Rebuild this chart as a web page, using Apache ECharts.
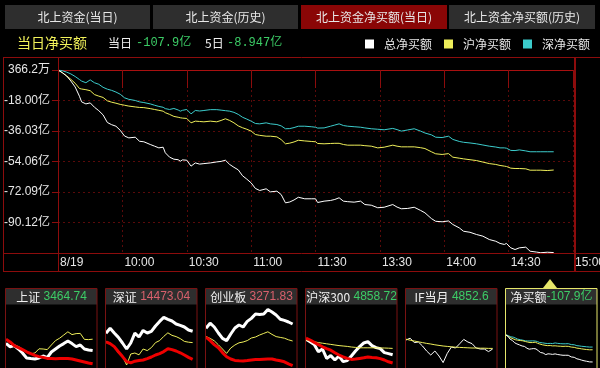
<!DOCTYPE html>
<html><head><meta charset="utf-8">
<script src="https://cdn.jsdelivr.net/npm/echarts@6/dist/echarts.min.js"></script>
<style>html,body{margin:0;padding:0;background:#000;}#c{width:600px;height:368px;}</style>
</head><body><div id="c"></div>
<script>
// ---------- main chart data (unit: 亿元), time = minutes since 9:30 (13:00 = 120) ----------
const times = [0,2,4,6,8,10,11,13,15,17,
  19,21,23,25,27,29,31,33,36,38,
  40,43,45,47,49,50,52,54,56,57,
  58,60,62,64,66,68,71,74,76,78,
  80,82,84,86,88,90,92,94,97,99,
  102,104,106,108,110,112,115,118,120,121,
  124,127,129,131,133,135,138,141,143,146,
  149,152,156,158,160,163,166,169,171,174,
  176,179,182,184,187,189,192,195,198,201,
  204,206,208,209,211,213,215,218,220,223,
  225,228,231];
const totalNet = [0.04,-1.5,-3.5,-6.5,-10.0,-15.5,-18.8,-20.0,-19.4,-22.0,
  -24.0,-26.5,-31.0,-32.3,-33.2,-35.6,-39.0,-40.1,-39.7,-42.1,
  -42.4,-44.0,-45.0,-46.0,-45.6,-48.9,-51.5,-52.7,-53.0,-53.9,
  -53.1,-53.3,-56.8,-54.9,-55.6,-55.3,-54.9,-54.3,-54.0,-53.3,
  -55.8,-57.5,-59.0,-62.5,-64.5,-66.7,-70.0,-71.2,-70.2,-72.0,
  -71.6,-73.6,-78.5,-78.0,-76.8,-75.2,-76.1,-76.1,-76.1,-78.3,
  -77.5,-77.1,-76.5,-75.5,-77.5,-77.8,-78.1,-77.5,-79.5,-79.9,
  -81.4,-81.1,-79.5,-81.0,-82.0,-81.8,-81.1,-83.0,-84.4,-87.8,
  -89.4,-89.7,-89.2,-91.3,-93.3,-95.3,-95.9,-97.2,-98.2,-100.2,
  -101.2,-102.5,-103.1,-102.5,-105.1,-106.1,-105.1,-104.7,-107.1,-107.6,
  -108.0,-107.7,-107.9];
const shNet = [0.04,-1.6,-3.4,-5.5,-7.8,-10.9,-11.2,-11.6,-12.2,-14.5,
  -15.4,-16.2,-18.2,-19.0,-19.6,-20.3,-20.8,-21.3,-21.8,-22.1,
  -22.2,-22.8,-23.3,-23.8,-24.3,-25.2,-26.2,-27.4,-27.9,-28.2,
  -28.4,-28.6,-31.2,-30.2,-30.4,-30.6,-30.2,-30.6,-29.8,-28.8,
  -29.8,-31.2,-33.0,-34.1,-35.0,-36.1,-38.1,-38.6,-39.1,-39.1,
  -39.5,-41.1,-43.6,-43.2,-42.5,-41.5,-41.9,-42.2,-42.4,-43.4,
  -43.6,-43.4,-43.3,-43.3,-44.0,-44.4,-44.4,-44.4,-44.7,-45.0,
  -46.0,-45.6,-44.4,-45.0,-45.4,-45.4,-45.4,-45.9,-46.4,-48.3,
  -49.5,-49.9,-49.4,-51.5,-52.1,-52.5,-53.0,-53.5,-54.4,-55.3,
  -55.8,-56.4,-56.8,-57.0,-58.0,-58.2,-58.2,-58.4,-59.2,-59.2,
  -59.2,-59.4,-59.1];
const szNet = [0.04,-0.4,-1.2,-2.3,-3.8,-5.6,-6.5,-7.5,-5.8,-7.5,
  -8.4,-10.2,-11.3,-12.0,-13.0,-14.3,-16.4,-17.3,-18.0,-18.8,
  -19.2,-20.0,-20.8,-21.5,-22.0,-22.8,-23.3,-22.7,-23.6,-24.3,
  -23.8,-23.3,-25.9,-23.9,-24.2,-23.9,-23.4,-23.4,-23.7,-24.0,
  -24.3,-25.0,-26.2,-27.9,-29.0,-30.2,-31.6,-31.8,-31.2,-31.8,
  -32.2,-33.0,-34.7,-34.6,-34.0,-33.2,-33.2,-33.5,-33.8,-34.3,
  -34.2,-33.2,-32.5,-31.8,-32.8,-33.2,-33.5,-33.8,-34.2,-34.7,
  -35.0,-35.3,-34.5,-35.2,-36.1,-35.4,-34.7,-36.1,-37.2,-38.3,
  -39.7,-39.9,-39.1,-41.0,-42.2,-42.7,-43.1,-43.6,-44.3,-45.0,
  -45.5,-46.0,-46.0,-46.2,-47.5,-47.6,-47.2,-47.8,-48.3,-48.3,
  -48.3,-48.3,-48.3];
const seriesNames = ['总净买额','沪净买额','深净买额'];
const xTickLabels = ['8/19','10:00','10:30','11:00','11:30','13:30','14:00','14:30','15:00'];
const yTickLabels = ['366.2万','-18.00亿','-36.03亿','-54.06亿','-72.09亿','-90.12亿'];
const tabs = ['北上资金(当日)','北上资金(历史)','北上资金净买额(当日)','北上资金净买额(历史)'];
const dayNet = '-107.9亿', fiveDayNet = '-8.947亿';

// ---------- thumbnails (relative change) ----------
const miniTimes = [0,11,22,33,44,55,66,77,88,99,110,121,132,143,154,165,176,187,198,209,220,231];
const panelNames = ['上证','深证','创业板','沪深300','IF当月','净买额'];
const panelValues = ['3464.74','14473.04','3271.83','4858.72','4852.6','-107.9亿'];
const shWhite = [-0.17,-0.34,-0.28,-0.45,-0.65,-0.9,-0.93,-0.95,-0.9,-0.8,-0.88,-0.6,-0.45,-0.3,-0.18,-0.05,-0.18,-0.33,-0.25,-0.45,-0.5,-0.53];
const shYellow = [0,-0.13,-0.27,-0.32,-0.45,-0.59,-0.69,-0.65,-0.44,-0.45,-0.48,-0.25,-0.03,0.09,0.25,0.41,0.27,0.32,0.33,0.03,0.02,0.04];
const shRed = [0.04,-0.1,-0.28,-0.38,-0.48,-0.59,-0.68,-0.77,-0.83,-0.87,-0.92,-0.93,-0.94,-0.93,-0.92,-0.92,-0.95,-1.0,-1.05,-1.1,-1.15,-1.19];
const szWhite = [0.34,0.59,0.35,0.13,-0.15,-0.45,-0.15,0.34,0.15,0.48,0.35,0.43,0.7,0.93,1.13,1.03,0.95,0.8,0.73,0.65,0.5,0.44];
const szYellow = [-0.09,-0.14,-0.35,-0.65,-0.83,-1.25,-0.7,-0.65,-0.74,-0.45,-0.53,-0.38,-0.13,-0.03,0.18,0.36,0.23,0.17,0.07,-0.07,-0.11,-0.13];
const szRed = [-0.09,-0.18,-0.33,-0.59,-0.83,-1.08,-1.14,-1.06,-1.03,-1.0,-0.93,-0.85,-0.75,-0.68,-0.58,-0.44,-0.48,-0.55,-0.64,-0.75,-0.87,-0.97];
const cyWhite = [0.59,0.84,0.65,0.35,0.08,-0.03,0.3,0.6,0.75,0.65,0.93,1.08,1.3,1.28,1.3,1.53,1.4,1.25,1.04,0.98,0.9,0.8];
const cyYellow = [0.17,0.08,-0.04,-0.24,-0.45,-0.67,-0.4,-0.25,-0.14,-0.1,-0.03,0.1,0.15,0.25,0.33,0.41,0.28,0.17,0.13,0.09,0.01,-0.05];
const cyRed = [0.14,-0.03,-0.23,-0.39,-0.63,-0.84,-0.95,-1.02,-1.04,-1.05,-1.03,-1.0,-0.98,-0.97,-0.96,-0.95,-0.95,-1.0,-1.04,-1.09,-1.19,-1.28];
const hsWhite = [0.04,-0.09,-0.23,-0.59,-0.45,-0.92,-0.78,-1.0,-0.8,-1.08,-1.03,-0.8,-0.55,-0.33,-0.15,-0.08,-0.28,-0.38,-0.43,-0.63,-0.68,-0.74];
const hsYellow = [0,-0.05,-0.09,-0.13,-0.16,-0.19,-0.22,-0.25,-0.28,-0.3,-0.32,-0.35,-0.37,-0.39,-0.39,-0.39,-0.39,-0.39,-0.4,-0.4,-0.41,-0.42];
const hsRed = [0.09,0,-0.12,-0.23,-0.34,-0.43,-0.51,-0.64,-0.75,-0.84,-0.92,-0.97,-0.95,-0.92,-0.89,-0.85,-0.88,-0.89,-0.93,-1.0,-1.09,-1.15];
const ifWhite = [0,0.09,-0.13,-0.1,-0.3,-0.55,-0.75,-0.55,-0.8,-1.13,-0.67,-0.35,-0.4,-0.19,0.03,-0.1,-0.18,-0.4,-0.45,-0.45,-0.58,-0.45];
const ifYellow = [0.04,-0.01,-0.05,-0.09,-0.13,-0.17,-0.2,-0.24,-0.27,-0.3,-0.32,-0.34,-0.36,-0.37,-0.38,-0.39,-0.4,-0.4,-0.41,-0.41,-0.42,-0.42];

// ---------- styling ----------
const FONT = '"Liberation Sans","Noto Sans CJK SC",sans-serif';
const CJK = '"Noto Sans CJK SC","Liberation Sans",sans-serif';
const MONO = '"Liberation Mono","Noto Sans CJK SC",monospace';
const RED = '#8c0c0c', DOT = '#5a0a0a';
const C_WHITE = '#ffffff', C_YEL = '#eeee5a', C_CYAN = '#3ccccc', C_RED = '#ee0000';
const GREEN = '#3ccc66', PINK = '#d8606c';
const Y_TOP = 0.03662, Y_STEP = 18.0317;

const chart = echarts.init(document.getElementById('c'), null, {renderer:'canvas', width:600, height:368});

const panelX = [5,105,205,305,405,505];
const grids = [{left:58, top:70, width:515, height:183, outerBoundsMode:'none', containLabel:false}];
const xAxes = [
  {type:'value', gridIndex:0, min:0, max:240, interval:30, position:'bottom',
   axisLine:{show:true, lineStyle:{color:RED}},
   axisTick:{show:true, length:18, lineStyle:{color:RED}},
   axisLabel:{show:true, margin:4, align:'left', padding:[0,0,0,2], color:'#e6e6e6', fontSize:12, fontFamily:FONT,
     showMinLabel:true, showMaxLabel:true, hideOverlap:false, formatter:v=>xTickLabels[Math.round(v/30)]||''},
   splitLine:{show:true, lineStyle:{color:DOT, type:[2,3]}}},
  {type:'value', gridIndex:0, min:0, max:240, position:'top',
   axisLine:{show:true, lineStyle:{color:'#a81010'}}, axisTick:{show:false}, axisLabel:{show:false}, splitLine:{show:false}}
];
const yAxes = [
  {type:'value', gridIndex:0, min:-6*Y_STEP, max:0, interval:Y_STEP,
   axisLine:{show:true, lineStyle:{color:RED}},
   axisTick:{show:true, length:6, lineStyle:{color:RED}},
   axisLabel:{margin:8, color:'#e6e6e6', fontSize:12, fontFamily:FONT,
     formatter:v=>yTickLabels[Math.round(-v/Y_STEP)]||''},
   splitLine:{show:true, lineStyle:{color:DOT, type:[2,3]}}}
];
const series = [];
const mk = (arr) => times.map((t,i)=>[t, arr[i]-Y_TOP]);
series.push({name:seriesNames[2], type:'line', xAxisIndex:0, yAxisIndex:0, data:mk(szNet), symbol:'none', color:C_CYAN, lineStyle:{width:1, color:C_CYAN}});
series.push({name:seriesNames[1], type:'line', xAxisIndex:0, yAxisIndex:0, data:mk(shNet), symbol:'none', color:C_YEL, lineStyle:{width:1, color:C_YEL}});
series.push({name:seriesNames[0], type:'line', xAxisIndex:0, yAxisIndex:0, data:mk(totalNet), symbol:'none', color:C_WHITE, lineStyle:{width:1, color:C_WHITE}});

const miniSets = [
  [[shWhite,C_WHITE,3],[shYellow,C_YEL,1],[shRed,C_RED,3]],
  [[szWhite,C_WHITE,3],[szYellow,C_YEL,1],[szRed,C_RED,3]],
  [[cyWhite,C_WHITE,3],[cyYellow,C_YEL,1],[cyRed,C_RED,3]],
  [[hsWhite,C_WHITE,3],[hsYellow,C_YEL,1],[hsRed,C_RED,3]],
  [[ifWhite,C_WHITE,1],[ifYellow,C_YEL,1]]
];
panelX.forEach((px, k) => {
  const gi = k + 1;
  grids.push({left:px+1, top:305, width:90, height:63, outerBoundsMode:'none', containLabel:false});
  xAxes.push({type:'value', gridIndex:gi, min:0, max:240, show:false});
  if (k < 5) {
    yAxes.push({type:'value', gridIndex:gi, min:-1.4, max:1.75, show:false});
    miniSets[k].forEach((s, j) => {
      series.push({name:'m'+k+'_'+j, type:'line', xAxisIndex:gi+1, yAxisIndex:gi, symbol:'none',
        data:miniTimes.map((t,i)=>[t, s[0][i]]), lineStyle:{width:s[2], color:s[1]}, color:s[1]});
    });
  } else {
    yAxes.push({type:'value', gridIndex:gi, min:-132, max:120, show:false});
    [[szNet,C_CYAN],[shNet,C_YEL],[totalNet,C_WHITE]].forEach((s,j)=>{
      series.push({name:'m5_'+j, type:'line', xAxisIndex:gi+1, yAxisIndex:gi, symbol:'none',
        data:times.map((t,i)=>[t, s[0][i]]), lineStyle:{width:1, color:s[1]}, color:s[1]});
    });
  }
});

// ---------- frame / tabs / titles ----------
const g = [];
const tabX = [5,153,301,449], tabW = [145,145,146,146];
tabs.forEach((t,i)=>{
  g.push({type:'rect', shape:{x:tabX[i], y:5, width:tabW[i], height:24}, style:{fill: i===2 ? '#8a0606' : '#2e2e2e'}, z:1});
  g.push({type:'text', style:{text:t, x:tabX[i]+tabW[i]/2, y:17.5, fill:'#e8e8e8', fontSize:12, fontFamily:CJK, align:'center', verticalAlign:'middle'}, z:3});
});
g.push({type:'text', style:{text:'当日净买额', x:17, y:43, fill:'#f2f25a', fontSize:14, fontFamily:CJK, verticalAlign:'middle'}, z:3});
g.push({type:'text', style:{text:'当日', x:108, y:43, fill:'#f0f0f0', fontSize:12, fontFamily:CJK, verticalAlign:'middle'}, z:3});
g.push({type:'text', style:{text:dayNet, x:136, y:43, fill:GREEN, fontSize:12, fontFamily:MONO, verticalAlign:'middle'}, z:3});
g.push({type:'text', style:{text:'5日', x:205, y:43, fill:'#f0f0f0', fontSize:12, fontFamily:CJK, verticalAlign:'middle'}, z:3});
g.push({type:'text', style:{text:fiveDayNet, x:227, y:43, fill:GREEN, fontSize:12, fontFamily:MONO, verticalAlign:'middle'}, z:3});
const line = (x1,y1,x2,y2,c,w)=>g.push({type:'line', shape:{x1,y1,x2,y2}, style:{stroke:c||RED, lineWidth:w||1}, z:4});
line(3,57.5,600,57.5);
line(3,271.5,600,271.5);
line(3,253.5,600,253.5);
line(3.5,57,3.5,272);
line(58.5,57,58.5,272);
line(575,57,575,272,RED,2);
// thumbnail panels
panelX.forEach((px,k)=>{
  const sel = k===5;
  g.push({type:'rect', shape:{x:px+0.5, y:288.5, width:91.5, height:16}, style:{fill:'#2e2e2e'}, z:1});
  g.push({type:'rect', shape:{x:px+0.5, y:288.5, width:91.5, height:90}, style:{fill:'none', stroke: sel ? '#e6e66a' : '#7a1212', lineWidth:1}, z:6});
  const col = (k===1||k===2) ? PINK : GREEN;
  const sep = k===5 ? '' : ' ';
  g.push({type:'text', style:{text:'{a|'+panelNames[k]+'}'+sep+'{b|'+panelValues[k]+'}', x:px+46.5, y:297,
    align:'center', verticalAlign:'middle',
    rich:{a:{fill:'#f0f0f0', fontSize:12, fontFamily:CJK}, b:{fill:col, fontSize:12, fontFamily:FONT}}}, z:7});
});
g.push({type:'polygon', shape:{points:[[543,288],[557,288],[550,279]]}, style:{fill:'#e6e66a'}, z:7});

chart.setOption({
  backgroundColor:'#000',
  animation:false,
  legend:{data:seriesNames.slice(), left:365, top:38, width:235, padding:0, icon:'rect', itemWidth:9, itemHeight:9, itemGap:12,
    textStyle:{color:'#e6e6e6', fontSize:12, fontFamily:CJK, padding:[0,0,0,5]}},
  grid:grids, xAxis:xAxes, yAxis:yAxes, series:series, graphic:g
});
</script></body></html>
